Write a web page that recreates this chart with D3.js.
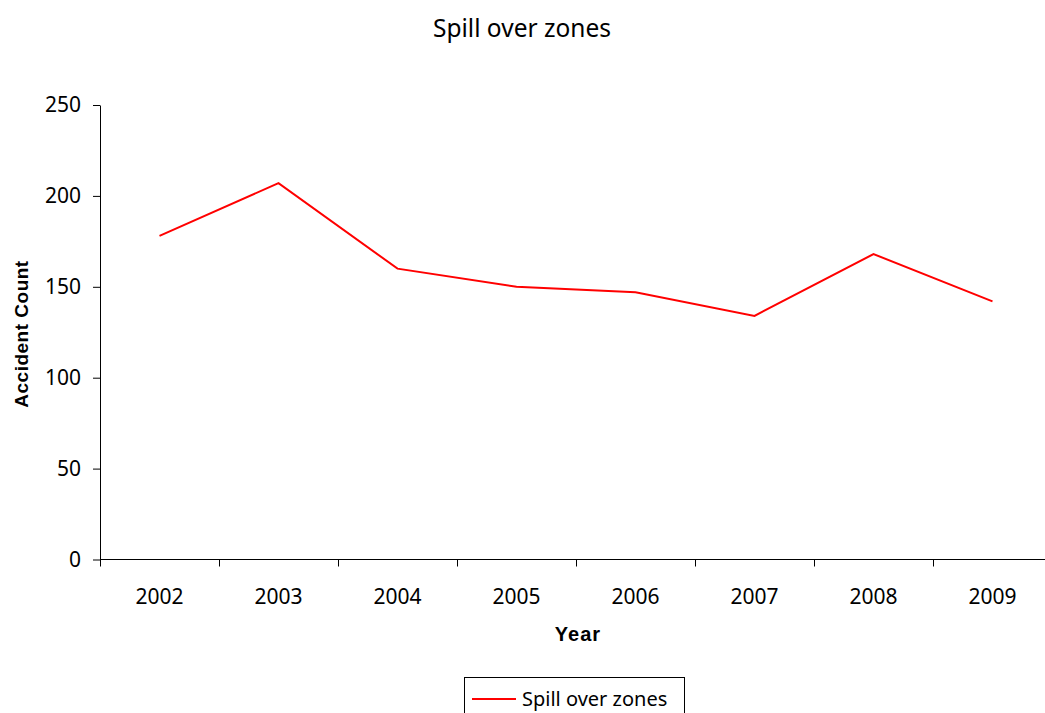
<!DOCTYPE html>
<html>
<head>
<meta charset="utf-8">
<script src="https://cdn.jsdelivr.net/npm/d3@7"></script>
<style>
  body { margin: 0; background: #fff; }
  .tick text { font-family: "Noto Sans", sans-serif; font-size: 21px; fill: #000; }
  .bold-label { font-family: "Liberation Sans", Arial, sans-serif; font-weight: bold; }
</style>
</head>
<body>
<svg class="chart" width="1045" height="713"></svg>
<script>
const years = ['2002', '2003', '2004', '2005', '2006', '2007', '2008', '2009'];
const accidents = [178, 207, 160, 150, 147, 134, 168, 142];
const yTicks = [0, 50, 100, 150, 200, 250];
const seriesName = 'Spill over zones';

const svg = d3.select('.chart');

const x = d3.scaleBand().domain(years).range([100, 1052]);
const y = d3.scaleLinear().domain([0, 250]).range([559.5, 105]);

// title
svg.append('text')
  .attr('x', 522)
  .attr('y', 37)
  .attr('text-anchor', 'middle')
  .style('font-family', '"Noto Sans", sans-serif')
  .style('font-size', '24.5px')
  .text(seriesName);

// y axis
const yAxis = svg.append('g')
  .attr('transform', 'translate(100,0)')
  .call(d3.axisLeft(y).tickValues(yTicks).tickSize(7).tickPadding(12).tickSizeOuter(0));
yAxis.select('.domain').attr('stroke', '#000');

// x axis, ticks on band edges
const xAxis = svg.append('g')
  .attr('transform', 'translate(0,559.5)');
xAxis.append('line')
  .attr('x1', 100).attr('x2', 1052)
  .attr('stroke', '#000');
xAxis.selectAll('.edge')
  .data(years)
  .enter()
  .append('line')
  .attr('x1', d => x(d) + 0.5)
  .attr('x2', d => x(d) + 0.5)
  .attr('y1', 0)
  .attr('y2', 7)
  .attr('stroke', '#000');
xAxis.selectAll('.lbl')
  .data(years)
  .enter()
  .append('text')
  .attr('class', 'lbl')
  .attr('x', d => x(d) + x.bandwidth() / 2)
  .attr('y', 44)
  .attr('text-anchor', 'middle')
  .style('font-family', '"Noto Sans", sans-serif')
  .style('font-size', '21px')
  .text(d => d);

// axis titles
svg.append('text')
  .attr('class', 'bold-label')
  .attr('x', 578)
  .attr('y', 641)
  .attr('text-anchor', 'middle')
  .style('font-size', '20px')
  .style('letter-spacing', '1px')
  .text('Year');

svg.append('text')
  .attr('class', 'bold-label')
  .attr('transform', 'translate(28,334) rotate(-90)')
  .attr('text-anchor', 'middle')
  .style('font-size', '19px')
  .style('letter-spacing', '0.5px')
  .text('Accident Count');

// the line
const line = d3.line()
  .x((d, i) => x(years[i]) + x.bandwidth() / 2)
  .y(d => y(d));

svg.append('path')
  .datum(accidents)
  .attr('fill', 'none')
  .attr('stroke', '#ff0000')
  .attr('stroke-width', 2)
  .attr('d', line);

// legend
const legend = svg.append('g');
legend.append('rect')
  .attr('x', 464.5).attr('y', 677.5)
  .attr('width', 220).attr('height', 50)
  .attr('fill', '#fff')
  .attr('stroke', '#000');
legend.append('line')
  .attr('x1', 472).attr('x2', 516)
  .attr('y1', 699).attr('y2', 699)
  .attr('stroke', '#ff0000')
  .attr('stroke-width', 2);
legend.append('text')
  .attr('x', 522)
  .attr('y', 706)
  .style('font-family', '"Noto Sans", sans-serif')
  .style('font-size', '20px')
  .text(seriesName);
</script>
</body>
</html>
